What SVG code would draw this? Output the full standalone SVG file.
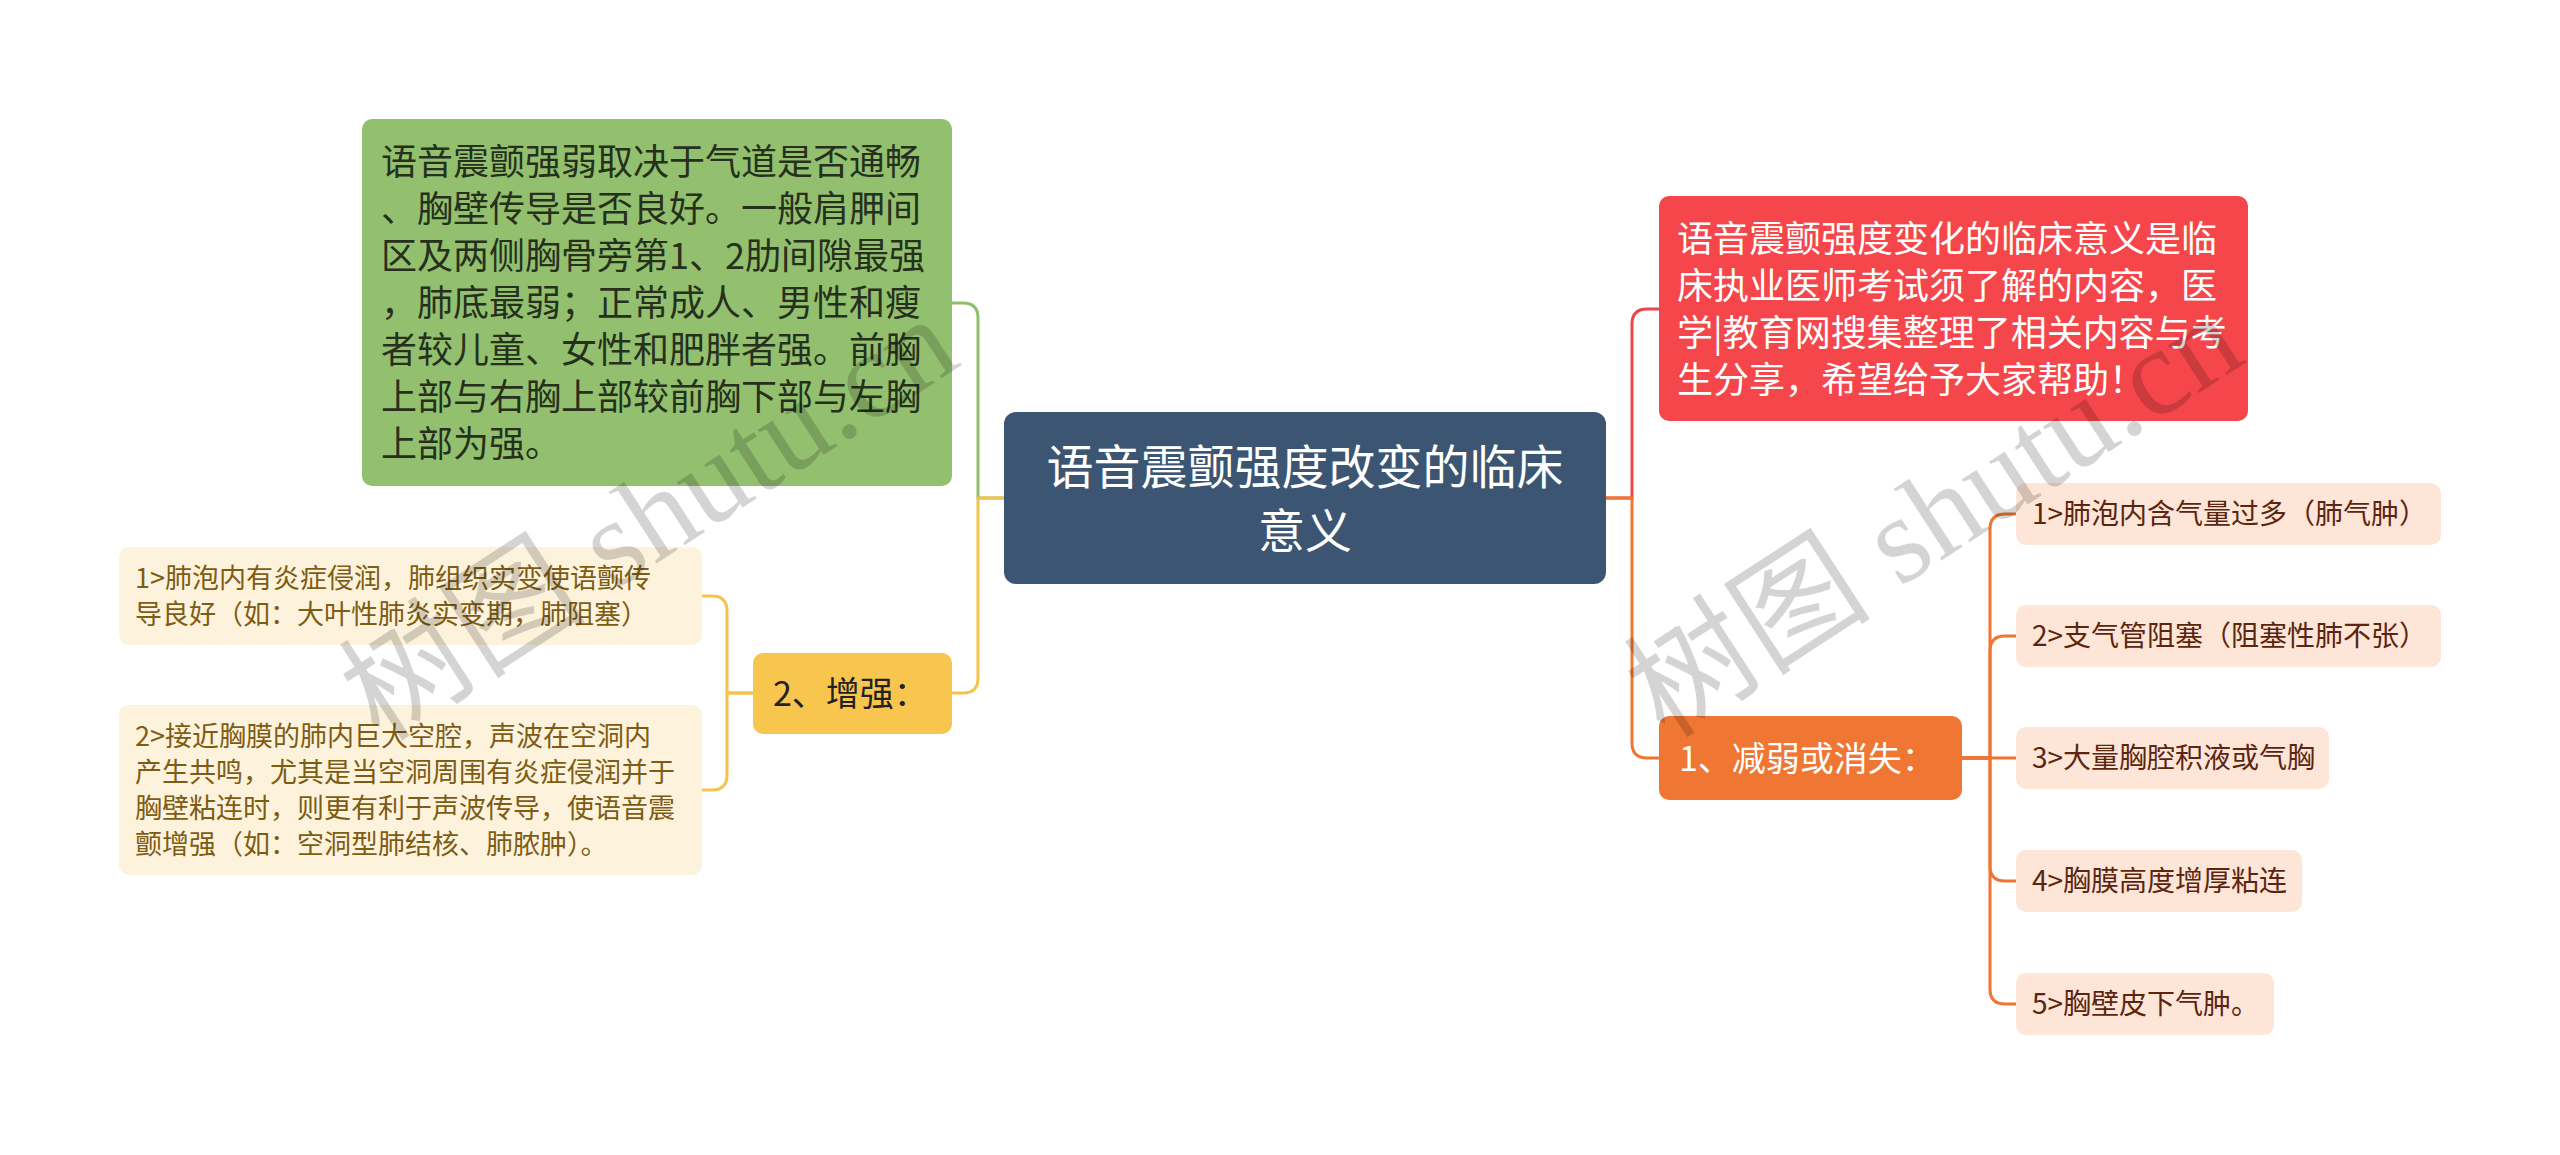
<svg xmlns="http://www.w3.org/2000/svg" width="2560" height="1155" viewBox="0 0 2560 1155">
<style>
text{font-family:"Noto Sans CJK SC","Noto Sans",sans-serif;}
.c{fill:none;stroke-width:3;stroke-linecap:round;}
.g{stroke:#8fbf6a;}
.y{stroke:#f5c34c;}
.r{stroke:#e8484a;}
.o{stroke:#ef7532;}
.leafR{fill:#fde5d7;}
.leafL{fill:#fdf3dc;}
.tR{font-size:28px;fill:#5b2510;}
.tL{font-size:27px;fill:#7d5c14;}
.wm{font-family:"Liberation Serif","Noto Sans CJK SC",serif;font-size:124px;fill:#000;fill-opacity:0.17;}
</style>
<rect width="2560" height="1155" fill="#ffffff"/>
<g id="connectors">
<path class="c g" d="M1004,498 H978 V318 Q978,303 963,303 H952"/>
<path class="c y" d="M1004,498 H978 V678 Q978,693 963,693 H952"/>
<path class="c y" d="M753,693 H727 V611 Q727,596 712,596 H702"/>
<path class="c y" d="M753,693 H727 V775 Q727,790 712,790 H702"/>
<path class="c r" d="M1606,498 H1632 V324 Q1632,309 1647,309 H1659"/>
<path class="c o" d="M1606,498 H1632 V743 Q1632,758 1647,758 H1659"/>
<path class="c o" d="M1962,758 H1990 V529 Q1990,514 2005,514 H2016"/>
<path class="c o" d="M1962,758 H1990 V651 Q1990,636 2005,636 H2016"/>
<path class="c o" d="M1962,758 H2016"/>
<path class="c o" d="M1962,758 H1990 V866 Q1990,881 2005,881 H2016"/>
<path class="c o" d="M1962,758 H1990 V989 Q1990,1004 2005,1004 H2016"/>
</g>
<g id="root">
<rect x="1004" y="412" width="602" height="172" rx="12" fill="#3b5572"/>
<text x="1305" y="484" font-size="47" fill="#ffffff" text-anchor="middle">语音震颤强度改变的临床</text>
<text x="1305" y="548" font-size="47" fill="#ffffff" text-anchor="middle">意义</text>
</g>
<g id="green">
<rect x="362" y="119" width="590" height="367" rx="10" fill="#93c06f"/>
<g font-size="36" fill="#26301c">
<text x="381" y="175">语音震颤强弱取决于气道是否通畅</text>
<text x="381" y="222">、胸壁传导是否良好。一般肩胛间</text>
<text x="381" y="269">区及两侧胸骨旁第1、2肋间隙最强</text>
<text x="381" y="316">，肺底最弱；正常成人、男性和瘦</text>
<text x="381" y="363">者较儿童、女性和肥胖者强。前胸</text>
<text x="381" y="410">上部与右胸上部较前胸下部与左胸</text>
<text x="381" y="457">上部为强。</text>
</g>
</g>
<g id="enhance">
<rect x="753" y="653" width="199" height="81" rx="10" fill="#f8c64f"/>
<text x="773" y="706" font-size="34" fill="#222222">2、增强：</text>
</g>
<g id="enhance-1">
<rect class="leafL" x="119" y="547" width="583" height="98" rx="10"/>
<text class="tL" x="135" y="588">1&gt;肺泡内有炎症侵润，肺组织实变使语颤传</text>
<text class="tL" x="135" y="624">导良好（如：大叶性肺炎实变期，肺阻塞）</text>
</g>
<g id="enhance-2">
<rect class="leafL" x="119" y="705" width="583" height="170" rx="10"/>
<text class="tL" x="135" y="746">2&gt;接近胸膜的肺内巨大空腔，声波在空洞内</text>
<text class="tL" x="135" y="782">产生共鸣，尤其是当空洞周围有炎症侵润并于</text>
<text class="tL" x="135" y="818">胸壁粘连时，则更有利于声波传导，使语音震</text>
<text class="tL" x="135" y="854">颤增强（如：空洞型肺结核、肺脓肿）。</text>
</g>
<g id="intro">
<rect x="1659" y="196" width="589" height="225" rx="10" fill="#f5474b"/>
<g font-size="36" fill="#ffffff">
<text x="1677" y="252">语音震颤强度变化的临床意义是临</text>
<text x="1677" y="299">床执业医师考试须了解的内容，医</text>
<text x="1677" y="346">学|教育网搜集整理了相关内容与考</text>
<text x="1677" y="393">生分享，希望给予大家帮助！</text>
</g>
</g>
<g id="weaken">
<rect x="1659" y="716" width="303" height="84" rx="10" fill="#f07633"/>
<text x="1679" y="771" font-size="34" fill="#ffffff">1、减弱或消失：</text>
</g>
<g id="weaken-1">
<rect class="leafR" x="2016" y="483" width="425" height="62" rx="10"/>
<text class="tR" x="2032" y="524">1&gt;肺泡内含气量过多（肺气肿）</text>
</g>
<g id="weaken-2">
<rect class="leafR" x="2016" y="605" width="425" height="62" rx="10"/>
<text class="tR" x="2032" y="646">2&gt;支气管阻塞（阻塞性肺不张）</text>
</g>
<g id="weaken-3">
<rect class="leafR" x="2016" y="727" width="313" height="62" rx="10"/>
<text class="tR" x="2032" y="768">3&gt;大量胸腔积液或气胸</text>
</g>
<g id="weaken-4">
<rect class="leafR" x="2016" y="850" width="286" height="62" rx="10"/>
<text class="tR" x="2032" y="891">4&gt;胸膜高度增厚粘连</text>
</g>
<g id="weaken-5">
<rect class="leafR" x="2016" y="973" width="258" height="62" rx="10"/>
<text class="tR" x="2032" y="1014">5&gt;胸壁皮下气肿。</text>
</g>
<g id="watermarks">
<text class="wm" x="650" y="560" text-anchor="middle" transform="rotate(-33 650 520)">树图 shutu.cn</text>
<text class="wm" x="1935" y="557" text-anchor="middle" transform="rotate(-33 1935 517)">树图 shutu.cn</text>
</g>
</svg>
